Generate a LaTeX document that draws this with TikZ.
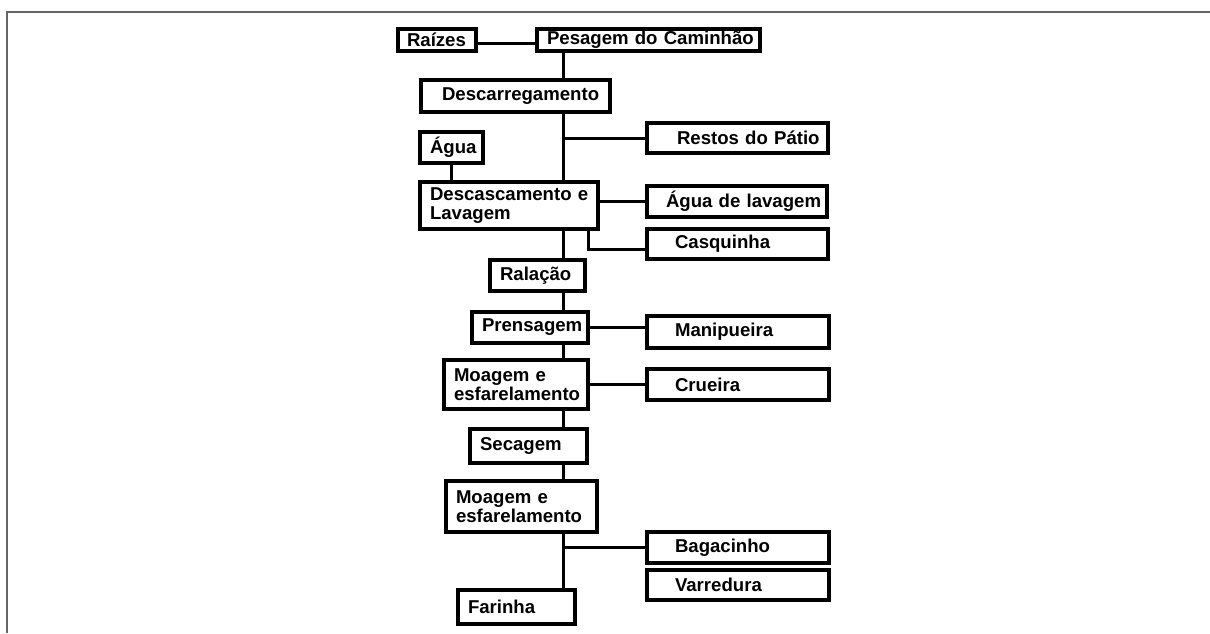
\documentclass[tikz,border=0pt]{standalone}
\usepackage{fontspec}
\setmainfont{Liberation Sans}
\usepackage{tikz}
\hyphenpenalty=10000
\exhyphenpenalty=10000
\hfuzz=60pt

\tikzset{
  etapa/.style={draw,line width=3.2pt,font=\bfseries\fontsize{18.6}{19.5}\selectfont,align=left,inner ysep=0pt},
  caixa/.style n args={3}{etapa,inner xsep=#1,text width=#2,minimum height=#3},
  liga/.style={line width=3pt},
  moldura/.style={line width=1.8pt,gray!80!black}
}

\begin{document}
\begin{tikzpicture}[x=1pt,y=-1pt]
\useasboundingbox (0,0) rectangle (1210,633);
\draw[moldura](1210,12)--(7,12)--(7,633);
\coordinate (trunk) at (563,0);

\node[caixa={9pt}{60pt}{22pt}] (raizes) at (437,40) {Raízes};
\node[caixa={10pt}{203pt}{22pt}] (pesagem) at (648.5,40) {Pesagem~do~Caminhão};
\node[caixa={21pt}{147pt}{32pt}] (descarga) at (515.5,96) {Descarregamento};
\node[caixa={30pt}{121pt}{30pt}] (restos) at (737.5,138) {Restos~do~Pátio};
\node[caixa={10pt}{43pt}{31pt}] (agua) at (451.5,147.5) {Água};
\node[caixa={10pt}{158pt}{47pt}] (descasca) at (509,205.5) {Descascamento~e\\Lavagem};
\node[caixa={19pt}{142pt}{31pt}] (lavagem) at (737,201.5) {Água~de~lavagem};
\node[caixa={28pt}{125pt}{30pt}] (casquinha) at (737.5,244) {Casquinha};
\node[caixa={10pt}{75pt}{31pt}] (ralacao) at (537.5,275.5) {Ralação};
\node[caixa={10pt}{96pt}{31pt}] (prensagem) at (530,327.5) {Prensagem};
\node[caixa={28pt}{126pt}{32pt}] (manipueira) at (738,332) {Manipueira};
\node[caixa={10pt}{124pt}{49pt}] (moagemA) at (516,384.5) {Moagem~e\\esfarelamento};
\node[caixa={28pt}{126pt}{31pt}] (crueira) at (738,384.5) {Crueira};
\node[caixa={10pt}{97pt}{34pt}] (secagem) at (528.5,446) {Secagem};
\node[caixa={10pt}{131pt}{51pt}] (moagemB) at (521.5,506.5) {Moagem~e\\esfarelamento};
\node[caixa={28pt}{126pt}{31pt}] (bagacinho) at (738,547.5) {Bagacinho};
\node[caixa={28pt}{126pt}{30pt}] (varredura) at (738,585) {Varredura};
\node[caixa={10pt}{97pt}{34pt}] (farinha) at (516.5,607) {Farinha};

\draw[liga]([yshift=-3pt]raizes.east)--([yshift=-3pt]raizes.east -| pesagem.west);
\draw[liga](pesagem.south -| trunk)--(descarga.north -| trunk);
\draw[liga](descarga.south -| trunk)--(descasca.north -| trunk);
\draw[liga](restos.west)--(restos.west -| trunk);
\draw[liga](agua.south)--(agua.south |- descasca.north);
\draw[liga](lavagem.west)--(lavagem.west -| descasca.east);
\draw[liga]([xshift=-11pt]descasca.south east)|-([yshift=-5pt]casquinha.west);
\draw[liga](descasca.south -| trunk)--(ralacao.north -| trunk);
\draw[liga](ralacao.south -| trunk)--(prensagem.north -| trunk);
\draw[liga](prensagem.east)--(prensagem.east -| manipueira.west);
\draw[liga](prensagem.south -| trunk)--(moagemA.north -| trunk);
\draw[liga](moagemA.east)--(moagemA.east -| crueira.west);
\draw[liga](moagemA.south -| trunk)--(secagem.north -| trunk);
\draw[liga](secagem.south -| trunk)--(moagemB.north -| trunk);
\draw[liga](moagemB.south -| trunk)--(farinha.north -| trunk);
\draw[liga](bagacinho.west)--(bagacinho.west -| trunk);
\end{tikzpicture}
\end{document}
